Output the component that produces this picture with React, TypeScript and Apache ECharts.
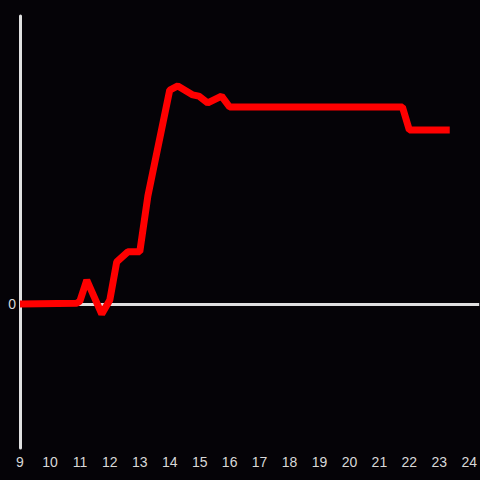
import React, { useEffect, useRef } from "react";
import * as echarts from "echarts";

const xValues = [9, 10.9, 11.0, 11.23, 11.73, 12.0, 12.23, 12.6, 13.0, 13.27, 14.0, 14.27, 14.77, 14.97, 15.27, 15.73, 16.0, 21.77, 22.0, 23.35];
const yValues = [0, 0.3, 1.0, 8.3, -3.5, 1.4, 14.6, 18.1, 18.1, 37.5, 74.3, 75.7, 72.6, 72.2, 69.8, 72.2, 68.4, 68.4, 60.4, 60.4];
const xTickLabels = ["9", "10", "11", "12", "13", "14", "15", "16", "17", "18", "19", "20", "21", "22", "23", "24"];
const yTickLabels = ["0"];

export default function App() {
  const ref = useRef<HTMLDivElement>(null);
  useEffect(() => {
    if (!ref.current) return;
    const chart = echarts.init(ref.current, undefined, { renderer: "svg" });
    const data = xValues.map((x, i) => [x, yValues[i]]);
    chart.setOption({
      animation: false,
      backgroundColor: "#050307",
      grid: { left: 20, right: 0, top: 16, bottom: 32, containLabel: false },
      xAxis: {
        type: "value",
        min: 9,
        max: 24.333,
        interval: 1,
        axisLine: { show: false },
        axisTick: { show: false },
        splitLine: { show: false },
        axisLabel: {
          color: "#d8d8d8",
          fontSize: 14,
          fontFamily: "Liberation Sans",
          margin: 7,
          showMaxLabel: false,
          formatter: (v: number) => (xTickLabels.includes(String(v)) ? String(v) : ""),
        },
      },
      yAxis: {
        type: "value",
        min: -50,
        max: 100,
        interval: 50,
        axisLine: { show: true, onZero: false, lineStyle: { color: "#e0e0e0", width: 3 } },
        axisTick: { show: false },
        splitLine: { show: false },
        axisLabel: {
          color: "#d8d8d8",
          fontSize: 14,
          fontFamily: "Liberation Sans",
          margin: 4,
          formatter: (v: number) => (yTickLabels.includes(String(v)) ? String(v) : ""),
        },
      },
      series: [
        {
          type: "line",
          data,
          symbol: "none",
          z: 3,
          lineStyle: { color: "#ff0000", width: 7 },
          markLine: {
            z: 1,
            silent: true,
            symbol: "none",
            label: { show: false },
            lineStyle: { color: "#e0e0e0", width: 3, type: "solid" },
            data: [{ yAxis: 0 }],
          },
        },
      ],
    });
    return () => chart.dispose();
  }, []);
  return <div ref={ref} style={{ position: "fixed", left: 0, top: 0, width: 480, height: 480 }} />;
}
